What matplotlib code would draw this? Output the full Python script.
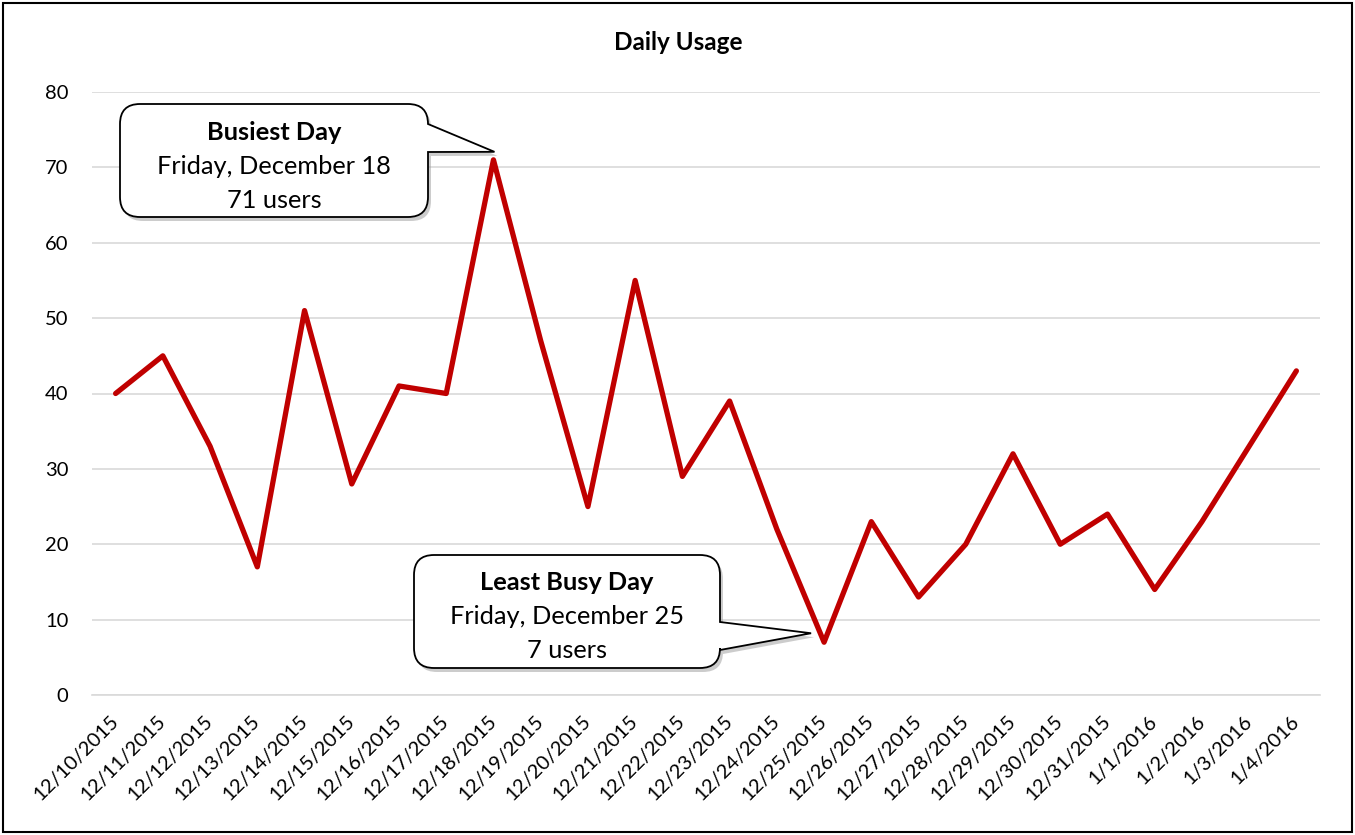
import matplotlib.pyplot as plt
from matplotlib.patches import PathPatch, Rectangle
from matplotlib.path import Path
from matplotlib.transforms import IdentityTransform

DATES = [
    "12/10/2015", "12/11/2015", "12/12/2015", "12/13/2015", "12/14/2015",
    "12/15/2015", "12/16/2015", "12/17/2015", "12/18/2015", "12/19/2015",
    "12/20/2015", "12/21/2015", "12/22/2015", "12/23/2015", "12/24/2015",
    "12/25/2015", "12/26/2015", "12/27/2015", "12/28/2015", "12/29/2015",
    "12/30/2015", "12/31/2015", "1/1/2016", "1/2/2016", "1/3/2016", "1/4/2016",
]
USERS = [40, 45, 33, 17, 51, 28, 41, 40, 71, 47, 25, 55, 29, 39, 22,
         7, 23, 13, 20, 32, 20, 24, 14, 23, 33, 43]

BUSIEST_TEXT = ["Busiest Day", "Friday, December 18", "71 users"]
QUIETEST_TEXT = ["Least Busy Day", "Friday, December 25", "7 users"]

W, H = 1355, 835
plt.rcParams["font.family"] = ["Lato", "DejaVu Sans"]


def callout_path(x0, x1, top, bottom, base1, base2, tip, r=20):
    # pixel coords, y measured from the top of the image
    def p(x, y):
        return (x, H - y)

    verts = [p(x0 + r, top), p(x1 - r, top), p(x1, top), p(x1, top + r),
             p(x1, base1), p(*tip), p(x1, base2),
             p(x1, bottom - r), p(x1, bottom), p(x1 - r, bottom),
             p(x0 + r, bottom), p(x0, bottom), p(x0, bottom - r),
             p(x0, top + r), p(x0, top), p(x0 + r, top), p(x0 + r, top)]
    codes = [Path.MOVETO, Path.LINETO, Path.CURVE3, Path.CURVE3,
             Path.LINETO, Path.LINETO, Path.LINETO,
             Path.LINETO, Path.CURVE3, Path.CURVE3,
             Path.LINETO, Path.CURVE3, Path.CURVE3,
             Path.LINETO, Path.CURVE3, Path.CURVE3, Path.CLOSEPOLY]
    return Path(verts, codes)


def draw_callout(fig, box, base1, base2, tip, lines):
    x0, x1, top, bottom = box
    path = callout_path(x0, x1, top, bottom, base1, base2, tip)
    shadow = Path(path.vertices + [3, -4], path.codes)
    fig.patches.append(PathPatch(shadow, transform=IdentityTransform(),
                                 facecolor="#9a9a9a", edgecolor="none",
                                 alpha=0.5, zorder=5))
    fig.patches.append(PathPatch(path, transform=IdentityTransform(),
                                 facecolor="white", edgecolor="black",
                                 linewidth=1.3, zorder=6))
    cx = (x0 + x1) / 2
    ys = [top + 28, top + 62, top + 96]
    for i, (txt, y) in enumerate(zip(lines, ys)):
        fig.text(cx / W, 1 - y / H, txt, ha="center", va="center",
                 fontsize=18.3, fontweight="bold" if i == 0 else "normal",
                 color="black", zorder=7)


def main() -> None:
    fig = plt.figure(figsize=(W / 100, H / 100), dpi=100)
    ax = fig.add_axes([92 / W, 1 - 695 / H, (1320 - 92) / W, (695 - 92) / H])

    x = list(range(len(DATES)))
    ax.plot(x, USERS, color="#C00000", linewidth=3.8,
            solid_joinstyle="round", solid_capstyle="round", zorder=3)

    ax.set_xlim(-0.5, len(DATES) - 0.5)
    ax.set_ylim(0, 80)
    ax.set_yticks(range(0, 81, 10))
    ax.set_xticks(x)
    ax.set_xticklabels(DATES, rotation=45, ha="right", va="center",
                       rotation_mode="anchor", fontsize=14.5)
    ax.tick_params(axis="x", length=0, pad=17)
    ax.tick_params(axis="y", length=0, pad=17, labelsize=14.5)
    ax.grid(axis="y", color="#d9d9d9", linewidth=1.2)
    ax.set_axisbelow(True)
    for side in ["top", "right", "left"]:
        ax.spines[side].set_visible(False)
    ax.spines["bottom"].set_color("#d9d9d9")
    ax.spines["bottom"].set_linewidth(1.2)

    fig.text(678 / W, 1 - 43 / H, "Daily Usage", ha="center", va="center",
             fontsize=17.5, fontweight="bold")

    fig.canvas.draw()
    hi = USERS.index(max(USERS))
    lo = USERS.index(min(USERS))
    hx, hy = ax.transData.transform((hi, USERS[hi]))
    lx, ly = ax.transData.transform((lo, USERS[lo]))
    draw_callout(fig, (120, 428, 104, 217), 124, 152,
                 (hx + 1, H - hy - 8), BUSIEST_TEXT)
    draw_callout(fig, (414, 720, 555, 668), 622, 650,
                 (lx - 13, H - ly - 9), QUIETEST_TEXT)

    fig.patches.append(Rectangle((3 / W, 3 / H), (W - 6) / W, (H - 6) / H,
                                 transform=fig.transFigure, fill=False,
                                 edgecolor="black", linewidth=1.5))

    fig.savefig("out.png", dpi=100)


if __name__ == "__main__":
    main()
